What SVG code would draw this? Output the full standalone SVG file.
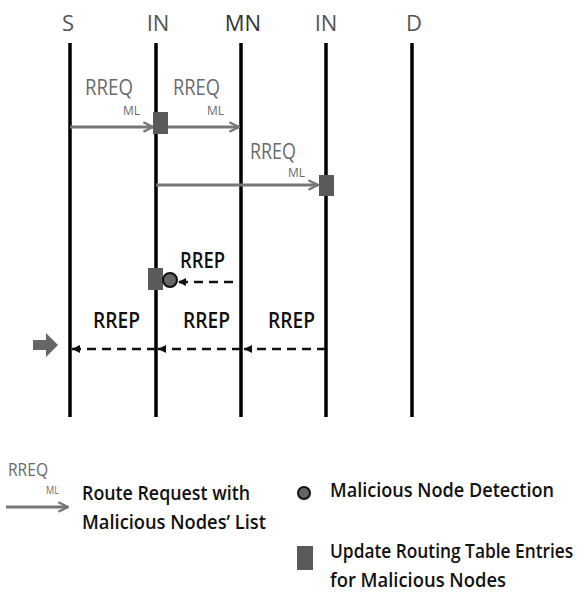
<svg xmlns="http://www.w3.org/2000/svg" width="585" height="603" viewBox="0 0 585 603">
<style>
.life{stroke:#000;stroke-width:3.5}
.hdr{font-family:"Open Sans","Liberation Sans",sans-serif;font-size:22px;fill:#555;text-anchor:middle}
.rq{font-family:"Open Sans","Liberation Sans",sans-serif;font-size:22px;fill:#6a6a6a}
.ml{font-family:"Open Sans","Liberation Sans",sans-serif;font-size:12px;fill:#6a6a6a}
.rp{font-family:"Open Sans","Liberation Sans",sans-serif;font-size:21px;fill:#111;font-weight:600}
.lg{font-family:"Open Sans","Liberation Sans",sans-serif;font-size:20px;fill:#111;font-weight:600}
.req{stroke:#777;stroke-width:3;fill:none;marker-end:url(#ah)}
.rep{stroke:#111;stroke-width:2.5;stroke-dasharray:9 6;fill:none;marker-end:url(#ad)}
.sq{fill:#5a5a5a}
.ci{fill:#666;stroke:#111;stroke-width:2}
</style>
<defs>
<marker id="ah" viewBox="0 0 10 10" refX="9" refY="5" markerWidth="4" markerHeight="4" orient="auto" markerUnits="strokeWidth">
<path d="M1,1 L9,5 L1,9" fill="none" stroke="#777" stroke-width="2"/>
</marker>
<marker id="ad" viewBox="0 0 10 10" refX="9" refY="5" markerWidth="4" markerHeight="4" orient="auto" markerUnits="strokeWidth">
<path d="M1,1 L9,5 L1,9 Z" fill="#111"/>
</marker>
</defs>
<g id="lifelines">
<g id="S"><text class="hdr" x="68" y="31">S</text><line class="life" x1="70" y1="43" x2="70" y2="417"/></g>
<g id="IN1"><text class="hdr" x="158" y="31">IN</text><line class="life" x1="156" y1="43" x2="156" y2="417"/></g>
<g id="MN"><text class="hdr" x="243" y="31" style="fill:#333">MN</text><line class="life" x1="241" y1="43" x2="241" y2="417"/></g>
<g id="IN2"><text class="hdr" x="326" y="31">IN</text><line class="life" x1="326" y1="43" x2="326" y2="417"/></g>
<g id="D"><text class="hdr" x="414" y="31">D</text><line class="life" x1="412" y1="43" x2="412" y2="417"/></g>
</g>
<g id="connectors">
<line class="req" x1="70" y1="127" x2="153" y2="127"/>
<line class="req" x1="167" y1="127" x2="239" y2="127"/>
<line class="req" x1="156" y1="185" x2="318" y2="185"/>
<line class="rep" x1="233" y1="282" x2="178" y2="282"/>
<line class="rep" x1="326" y1="349" x2="244" y2="349"/>
<line class="rep" x1="241" y1="349" x2="158" y2="349"/>
<line class="rep" x1="156" y1="349" x2="72" y2="349"/>
</g>
<g id="labels">
<text class="rq" x="85" y="95" textLength="48" lengthAdjust="spacingAndGlyphs">RREQ</text><text class="ml" x="123" y="115" textLength="17" lengthAdjust="spacingAndGlyphs">ML</text>
<text class="rq" x="173" y="95" textLength="47" lengthAdjust="spacingAndGlyphs">RREQ</text><text class="ml" x="207" y="115" textLength="17" lengthAdjust="spacingAndGlyphs">ML</text>
<text class="rq" x="250" y="159" textLength="46" lengthAdjust="spacingAndGlyphs">RREQ</text><text class="ml" x="288" y="177" textLength="17" lengthAdjust="spacingAndGlyphs">ML</text>
<text class="rp" x="180" y="268" textLength="45" lengthAdjust="spacingAndGlyphs">RREP</text>
<text class="rp" x="93" y="328" textLength="47" lengthAdjust="spacingAndGlyphs">RREP</text>
<text class="rp" x="183" y="328" textLength="47" lengthAdjust="spacingAndGlyphs">RREP</text>
<text class="rp" x="268" y="328" textLength="47" lengthAdjust="spacingAndGlyphs">RREP</text>
</g>
<g id="markers">
<rect class="sq" x="153" y="112" width="15" height="22"/>
<rect class="sq" x="319" y="175" width="15" height="21"/>
<rect class="sq" x="148" y="268" width="15" height="22"/>
<circle class="ci" cx="170" cy="280" r="7"/>
<path d="M33,340 H46 V333 L58,345 L46,357 V350 H33 Z" fill="#666"/>
</g>
<g id="legend">
<text class="rq" x="8" y="476" textLength="40" lengthAdjust="spacingAndGlyphs" style="font-size:19px">RREQ</text><text class="ml" x="46" y="494" textLength="13" lengthAdjust="spacingAndGlyphs" style="font-size:11px">ML</text>
<line class="req" x1="6" y1="507" x2="68" y2="507"/>
<text class="lg" x="82" y="500" textLength="168" lengthAdjust="spacingAndGlyphs">Route Request with</text>
<text class="lg" x="82" y="529" textLength="184" lengthAdjust="spacingAndGlyphs">Malicious Nodes’ List</text>
<circle class="ci" cx="304" cy="493" r="6"/>
<text class="lg" x="330" y="497" textLength="224" lengthAdjust="spacingAndGlyphs">Malicious Node Detection</text>
<rect class="sq" x="297" y="546" width="16" height="24"/>
<text class="lg" transform="translate(330,558) scale(0.8,1)" x="0" y="0" textLength="304" lengthAdjust="spacingAndGlyphs">Update Routing Table Entries</text>
<text class="lg" x="330" y="587" textLength="176" lengthAdjust="spacingAndGlyphs">for Malicious Nodes</text>
</g>
</svg>
